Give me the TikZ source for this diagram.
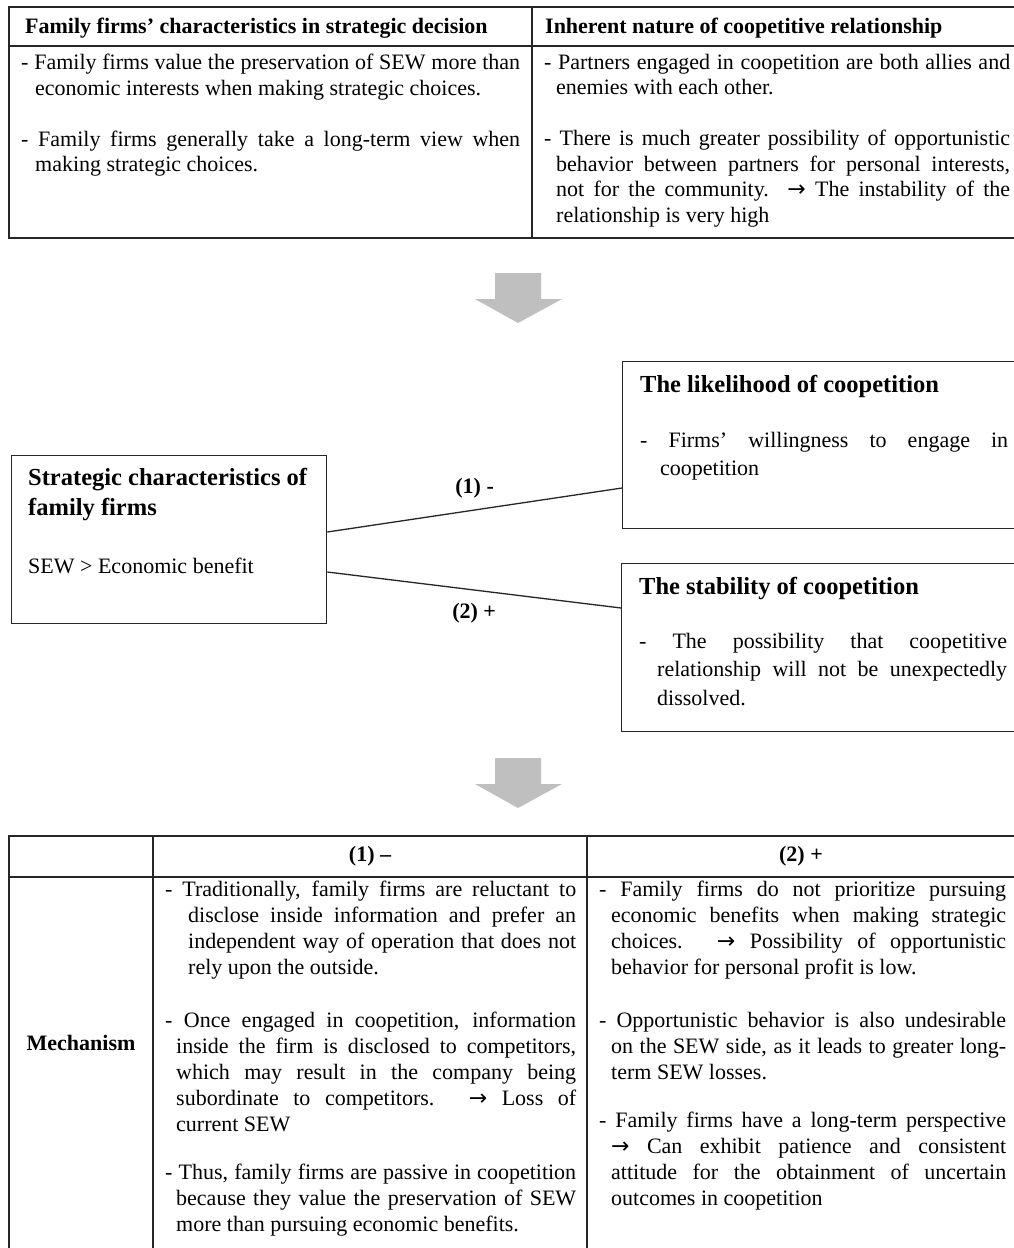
\documentclass[tikz,border=0pt]{standalone}
\usepackage{fontspec}
\setmainfont{Liberation Serif}
\newfontfamily\symbolfont{DejaVu Sans}
\usetikzlibrary{positioning}

\newcommand{\rarr}{{\symbolfont →}}
\newcommand{\dashpara}[2]{\hangindent=#1pt\hangafter=1 #2\par}
\newcommand{\paragap}[1]{\vspace{#1pt}}

\begin{document}
\begin{tikzpicture}[x=1pt,y=-1pt,
    tablerule/.style={draw=black!85,line width=1.3pt},
    boxframe/.style={draw=black!85,line width=1.3pt,anchor=north west,inner sep=0pt},
    headtext/.style={anchor=base west,inner sep=0pt,font=\fontsize{22}{26}\selectfont\bfseries},
    celltext/.style={anchor=north west,inner sep=0pt,align=justify,font=\fontsize{22}{26}\selectfont},
    plaintext/.style={anchor=north west,inner sep=0pt,font=\fontsize{22}{26}\selectfont},
    boxtitle/.style={anchor=north west,inner sep=0pt,align=left,font=\fontsize{24.5}{30}\selectfont\bfseries},
    boxtext/.style={anchor=north west,inner sep=0pt,align=justify,font=\fontsize{22}{28.5}\selectfont},
    linkline/.style={draw=black!85,line width=1.3pt},
    linklabel/.style={inner sep=0pt,font=\fontsize{22}{26}\selectfont\bfseries},
    flowarrow/.pic={\fill[black!25] (-23,0) -- (23,0) -- (23,26) -- (44,26) -- (0,50) -- (-43,26) -- (-23,26) -- cycle;}]
  \useasboundingbox (0,0) rectangle (1014,1248);
  \fill[white] (0,0) rectangle (1014,1248);

  % top table
  \draw[tablerule] (9,7) rectangle (1024,238);
  \draw[tablerule] (9,46) -- (1024,46);
  \draw[tablerule] (532,7) -- (532,238);
  \node[headtext] (headfam) at (25,33) {Family firms’ characteristics in strategic decision};
  \node[headtext] (headcoop) at (545,33) {Inherent nature of coopetitive relationship};
  \node[celltext,text width=499pt,font=\fontsize{22}{25.5}\selectfont] (famtext) at (21,54) {%
    \dashpara{14}{- Family firms value the preservation of SEW more than\linebreak economic interests when making strategic choices.}\paragap{25.5}%
    \dashpara{14}{- Family firms generally take a long-term view when\linebreak making strategic choices.}};
  \node[celltext,text width=466pt,font=\fontsize{22}{25.5}\selectfont] (cooptext) at (544,54) {%
    \dashpara{12}{- Partners engaged in coopetition are both allies and\linebreak enemies with each other.}\paragap{25.5}%
    \dashpara{12}{- There is much greater possibility of opportunistic\linebreak behavior between partners for personal interests,\linebreak not for the community. \rarr{} The instability of the\linebreak relationship is very high}};

  \pic at (518,273) {flowarrow};

  % model
  \node[boxframe,minimum width=315pt,minimum height=168pt] (sewbox) at (11,455) {};
  \node[boxframe,minimum width=402pt,minimum height=167pt] (likebox) at (622,361) {};
  \node[boxframe,minimum width=403pt,minimum height=168pt] (stabbox) at (621,563) {};

  \node[boxtitle,below right=13pt and 17pt of sewbox.north west] (sewtitle) {Strategic characteristics of\\family firms};
  \node[plaintext,below right=37pt and 0pt of sewtitle.south west] (sewnote) {SEW > Economic benefit};

  \node[boxtitle,below right=14pt and 18pt of likebox.north west] (liketitle) {The likelihood of coopetition};
  \node[boxtext,text width=368pt,below right=34pt and 0pt of liketitle.south west] (liketext) {%
    \dashpara{20}{- Firms’ willingness to engage in\linebreak coopetition}};

  \node[boxtitle,below right=14pt and 18pt of stabbox.north west] (stabtitle) {The stability of coopetition};
  \node[boxtext,text width=368pt,below right=33pt and 0pt of stabtitle.south west] (stabtext) {%
    \dashpara{18}{- The possibility that coopetitive\linebreak relationship will not be unexpectedly\linebreak dissolved.}};

  \draw[linkline] ([yshift=-77pt]sewbox.north east) -- node[linklabel,above=11pt] (likelab) {(1) -} ([yshift=-127pt]likebox.north west);
  \draw[linkline] ([yshift=-117pt]sewbox.north east) -- node[linklabel,below=13pt] (stablab) {(2) +} ([yshift=-45pt]stabbox.north west);

  \pic at (518,758) {flowarrow};

  % bottom table
  \draw[tablerule] (9,1260) -- (9,836) -- (1024,836);
  \draw[tablerule] (9,877) -- (1024,877);
  \draw[tablerule] (153,836) -- (153,1260);
  \draw[tablerule] (587,836) -- (587,1260);
  \node[linklabel] (headneg) at (370,856) {(1) --};
  \node[linklabel] (headpos) at (801,856) {(2) +};
  \node[linklabel] (mech) at (81,1043) {Mechanism};
  \node[celltext,text width=411pt] (negtext) at (165,881) {%
    \dashpara{23}{- Traditionally, family firms are reluctant to\linebreak disclose inside information and prefer an\linebreak independent way of operation that does not\linebreak rely upon the outside.}\paragap{27}%
    \dashpara{11}{- Once engaged in coopetition, information\linebreak inside the firm is disclosed to competitors,\linebreak which may result in the company being\linebreak subordinate to competitors. \rarr{} Loss of\linebreak current SEW}\paragap{22}%
    \dashpara{11}{- Thus, family firms are passive in coopetition\linebreak because they value the preservation of SEW\linebreak more than pursuing economic benefits.}};
  \node[celltext,text width=407pt] (postext) at (599,881) {%
    \dashpara{12}{- Family firms do not prioritize pursuing\linebreak economic benefits when making strategic\linebreak choices. \rarr{} Possibility of opportunistic\linebreak behavior for personal profit is low.}\paragap{27}%
    \dashpara{12}{- Opportunistic behavior is also undesirable\linebreak on the SEW side, as it leads to greater long-\linebreak term SEW losses.}\paragap{22}%
    \dashpara{12}{- Family firms have a long-term perspective\linebreak \rarr{} Can exhibit patience and consistent\linebreak attitude for the obtainment of uncertain\linebreak outcomes in coopetition}};
\end{tikzpicture}
\end{document}
